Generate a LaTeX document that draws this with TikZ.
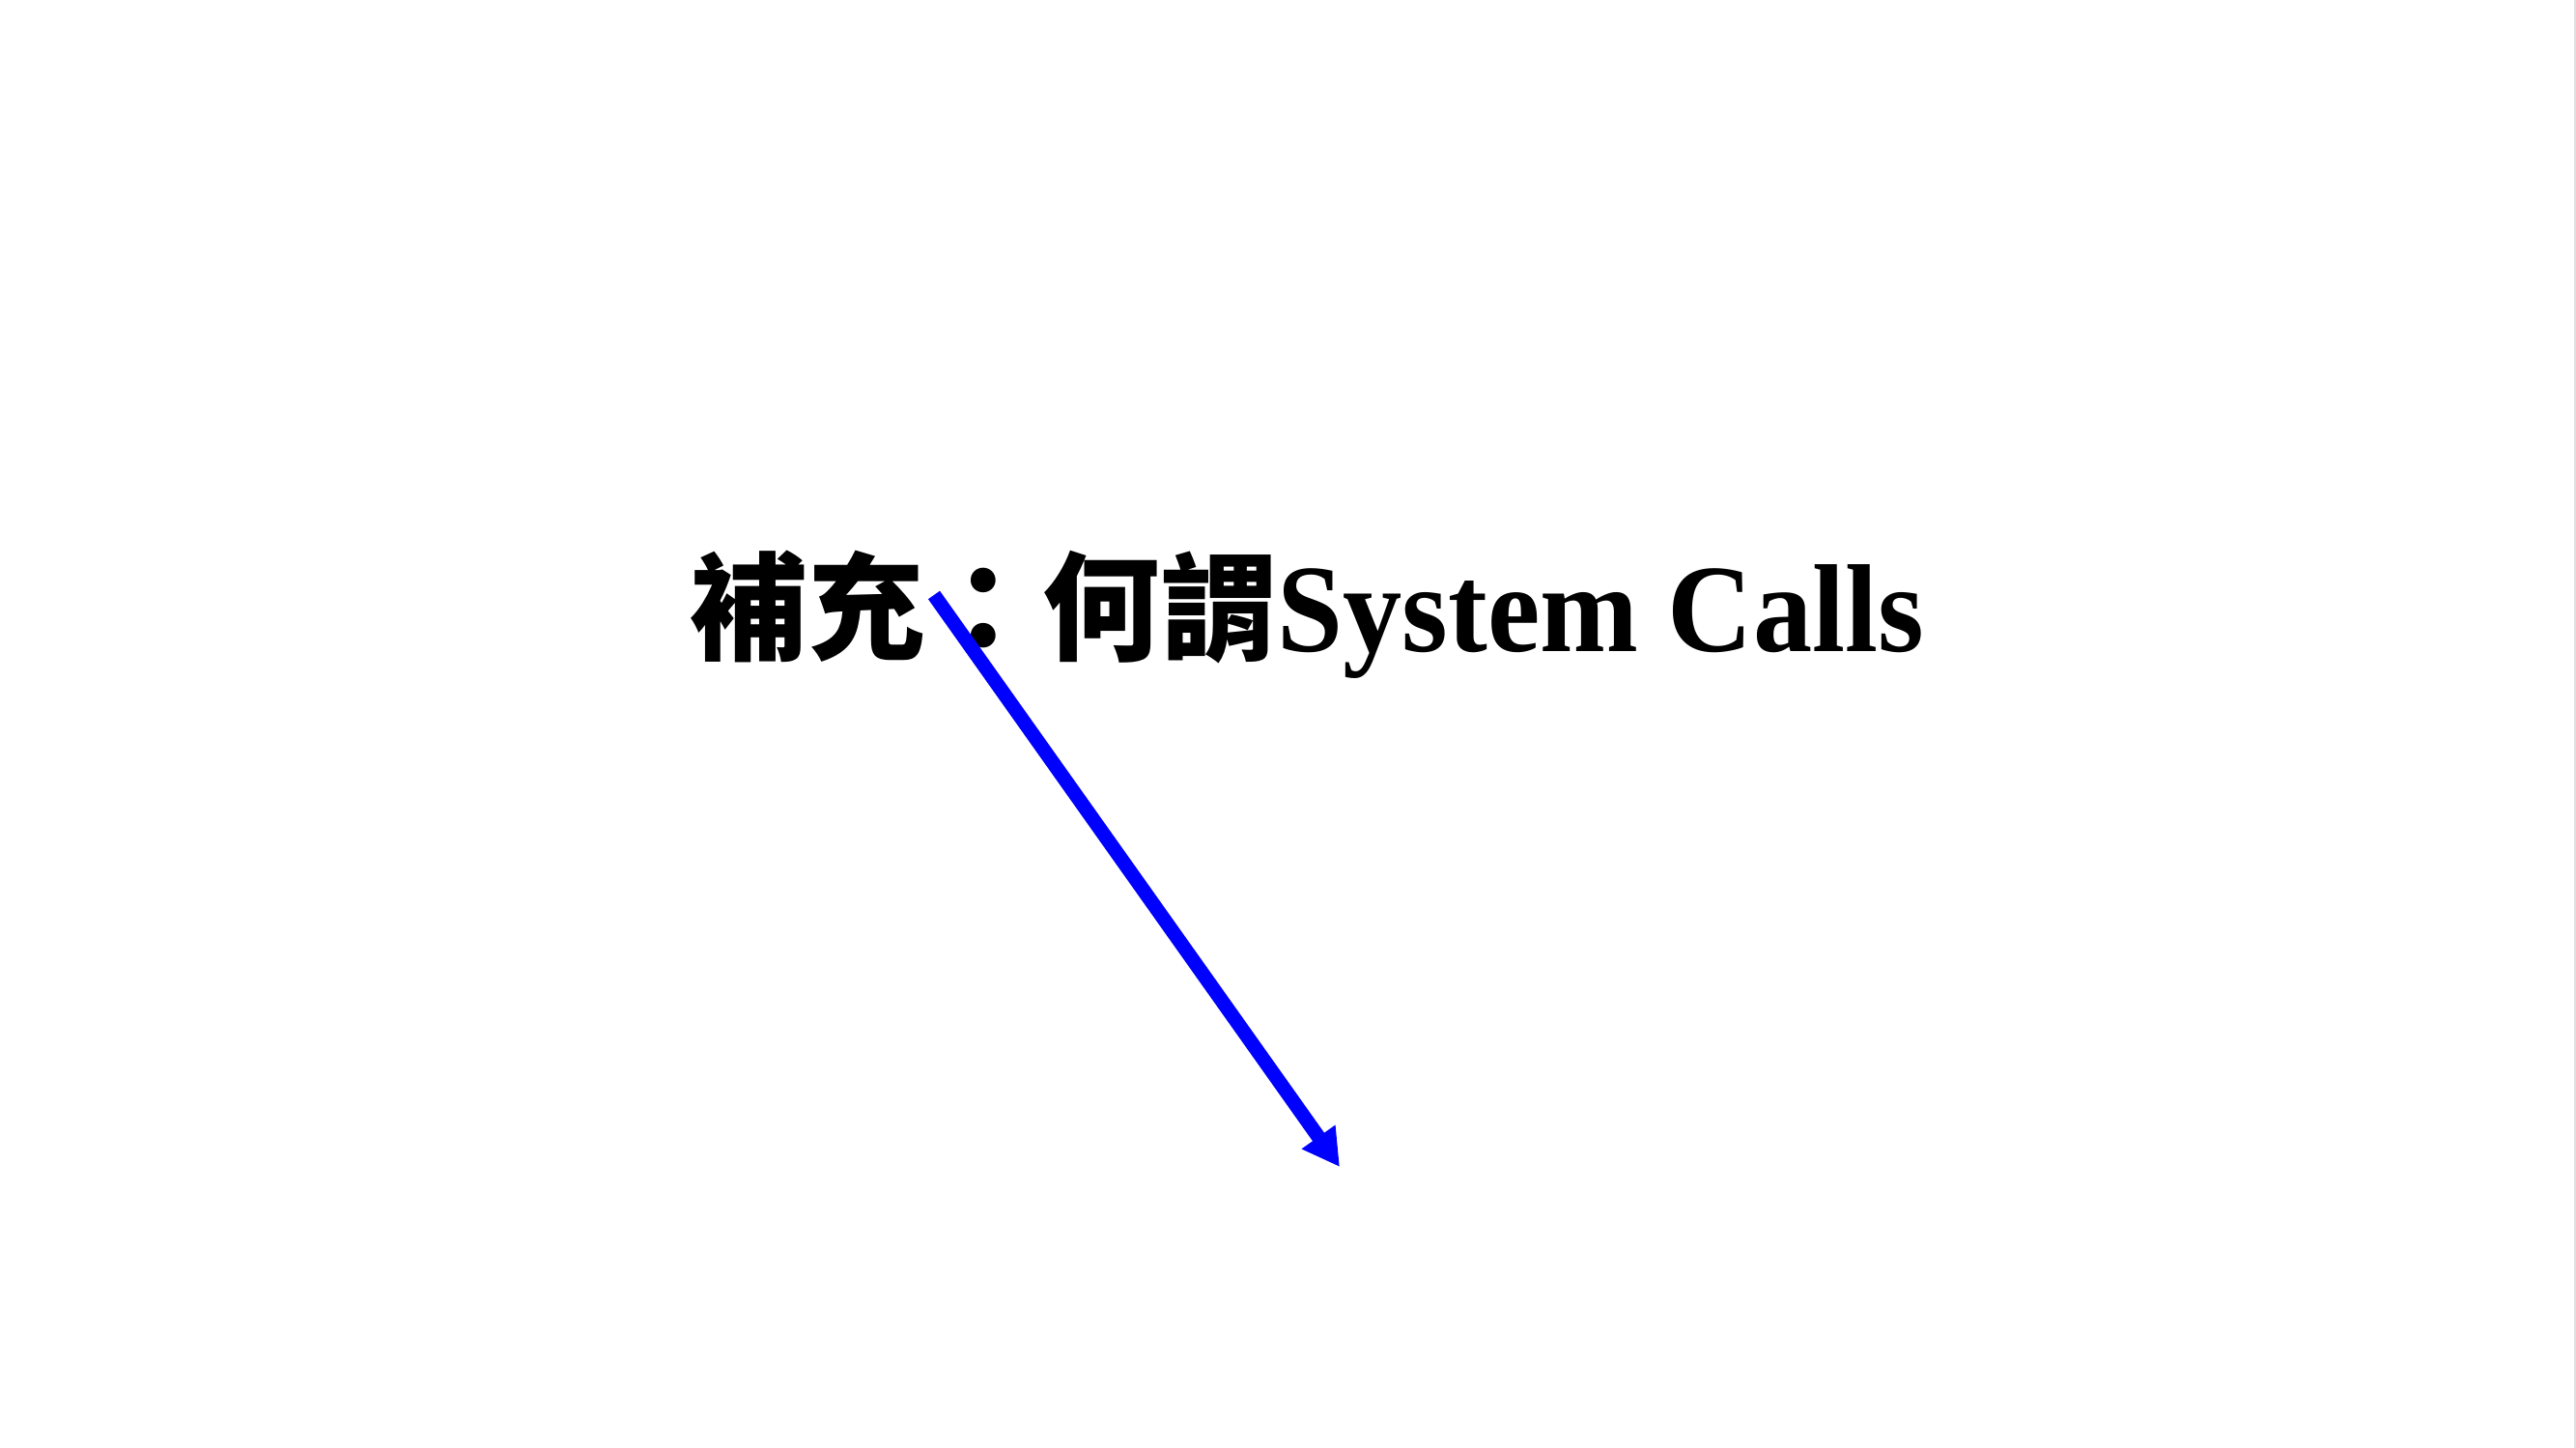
\documentclass[tikz,border=0pt]{standalone}
\usepackage{fontspec}
\usepackage{graphicx}
\setmainfont{Liberation Serif}
\newfontfamily\cjk{Noto Sans CJK TC}
\usetikzlibrary{positioning,arrows.meta}

\begin{document}
\begin{tikzpicture}[
                    titlenode/.style={inner sep=0pt, anchor=base west, font=\fontsize{34.6}{40}\selectfont\bfseries},
                    callarrow/.style={draw=blue, line width=4.2pt, -{Triangle[length=0.38cm, width=0.40cm]}},
                ]
                    \useasboundingbox (0,0) rectangle (26.67,14.99);
                    \draw[black!12, line width=0.4pt] (26.66,0) -- (26.66,14.99);

                    %Nodes
                    \node[titlenode](title) at (7.14,8.24) {{\cjk 補充：何謂}\scalebox{1}[1.06]{\fontsize{34.8}{40}\selectfont System Calls}};
                    \coordinate (from) at (9.67,8.83);
                    \coordinate (to) at (13.87,2.91);

                    %Lines
                    \draw[callarrow](from) -- (to);
                \end{tikzpicture}
\end{document}
